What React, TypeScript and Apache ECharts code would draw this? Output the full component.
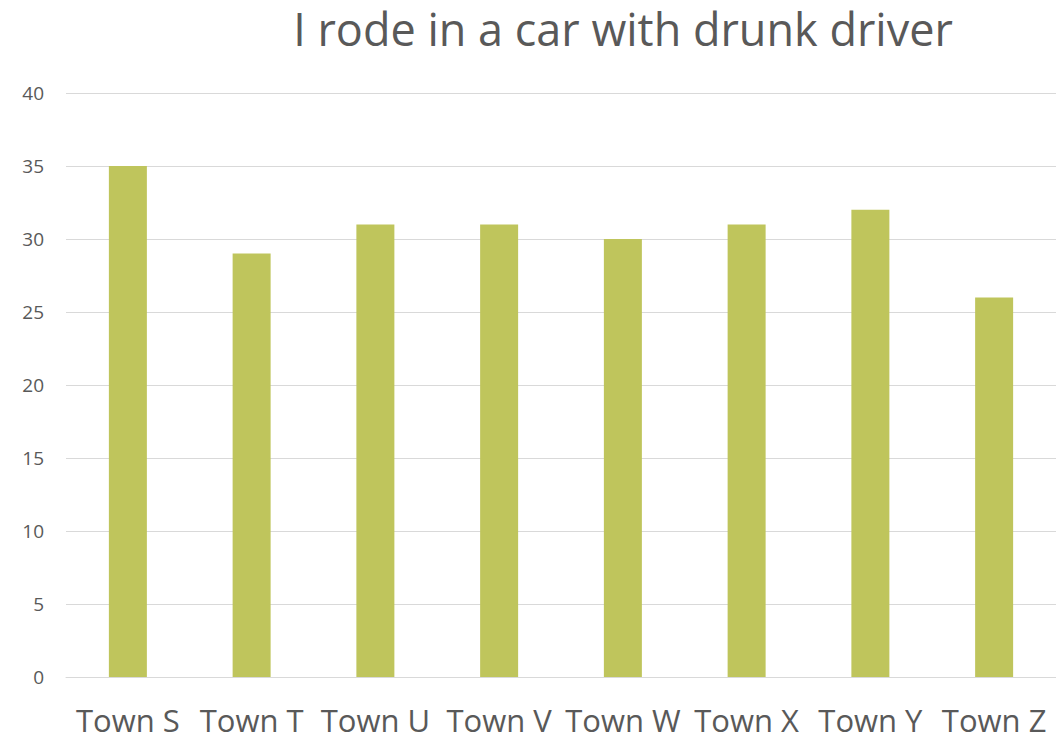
import React, { useEffect, useRef } from "react";
import * as echarts from "echarts";

const categories = ["Town S", "Town T", "Town U", "Town V", "Town W", "Town X", "Town Y", "Town Z"];
const values = [35, 29, 31, 31, 30, 31, 32, 26];
const titleText = "I rode in a car with drunk driver";

export default function App() {
  const ref = useRef<HTMLDivElement>(null);
  useEffect(() => {
    const chart = echarts.init(ref.current!, null, { renderer: "svg" });
    chart.setOption({
      animation: false,
      backgroundColor: "#ffffff",
      title: {
        text: titleText,
        left: 623,
        textAlign: "center",
        top: 6,
        padding: 0,
        textStyle: { fontFamily: "Open Sans", fontSize: 45, lineHeight: 45, fontWeight: "normal", color: "#595959" },
      },
      grid: { left: 66, right: 0, top: 93, bottom: 63, containLabel: false },
      xAxis: {
        type: "category",
        data: categories,
        axisLine: { show: true, lineStyle: { color: "#d9d9d9", width: 1 } },
        axisTick: { show: false },
        axisLabel: { fontFamily: "Open Sans", fontSize: 31, color: "#595959", margin: 27, interval: 0 },
      },
      yAxis: {
        type: "value",
        min: 0,
        max: 40,
        interval: 5,
        axisLine: { show: false },
        axisTick: { show: false },
        splitLine: { lineStyle: { color: "#d9d9d9", width: 1 } },
        axisLabel: { fontFamily: "Open Sans", fontSize: 19, color: "#595959", margin: 22 },
      },
      series: [
        {
          type: "bar",
          data: values,
          barWidth: 38,
          itemStyle: { color: "#bfc55c" },
        },
      ],
    });
    return () => chart.dispose();
  }, []);
  return <div ref={ref} style={{ position: "fixed", left: 0, top: 0, width: 1056, height: 740 }} />;
}
